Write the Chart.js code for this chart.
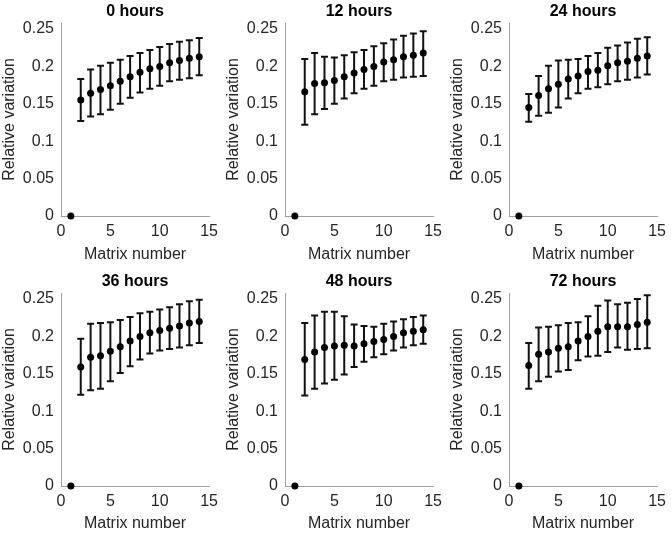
<!DOCTYPE html>
<html lang="en">
<head>
<meta charset="UTF-8">
<title>Relative variation by matrix number</title>
<script src="https://cdn.jsdelivr.net/npm/chart.js"></script>
<style>
  body { margin: 0; background: #fff; }
  #wrap { position: relative; width: 672px; height: 535px; }
  #wrap canvas { position: absolute; }
</style>
</head>
<body>
<div id="wrap"></div>
<script>
  // x values and tick labels shared by every panel
  const matrixNumbers = [1, 2, 3, 4, 5, 6, 7, 8, 9, 10, 11, 12, 13, 14];
  const xTicks = [0, 5, 10, 15];
  const yTicks = [0, 0.05, 0.1, 0.15, 0.2, 0.25];
  const yTickLabels = ['0', '0.05', '0.1', '0.15', '0.2', '0.25'];
  const panelTitles = ['0 hours', '12 hours', '24 hours', '36 hours', '48 hours', '72 hours'];

  // mean, upper and lower error bar ends
  const mean0h  = [0, .155, .164, .169, .174, .180, .186, .192, .197, .200, .205, .208, .211, .213];
  const upper0h = [0, .183, .196, .201, .205, .209, .214, .218, .222, .226, .230, .233, .235, .238];
  const lower0h = [0, .127, .133, .136, .142, .150, .158, .165, .170, .174, .180, .182, .184, .188];

  const mean12h  = [0, .166, .177, .178, .181, .186, .191, .196, .200, .206, .209, .213, .215, .218];
  const upper12h = [0, .210, .218, .213, .212, .215, .219, .222, .227, .231, .236, .241, .244, .247];
  const lower12h = [0, .122, .136, .143, .150, .157, .164, .170, .174, .180, .182, .185, .186, .187];

  const mean24h  = [0, .145, .161, .170, .176, .183, .187, .193, .195, .201, .205, .207, .211, .214];
  const upper24h = [0, .163, .187, .201, .208, .209, .210, .214, .218, .225, .228, .232, .237, .239];
  const lower24h = [0, .126, .134, .138, .145, .157, .164, .170, .172, .176, .180, .182, .185, .189];

  const mean36h  = [0, .159, .172, .174, .180, .186, .194, .200, .205, .208, .211, .214, .218, .220];
  const upper36h = [0, .197, .217, .218, .219, .222, .226, .231, .233, .236, .239, .243, .247, .249];
  const lower36h = [0, .122, .128, .130, .140, .151, .160, .169, .177, .181, .183, .185, .188, .191];

  const mean48h  = [0, .169, .179, .185, .187, .188, .187, .190, .193, .196, .200, .205, .207, .209];
  const upper48h = [0, .218, .228, .233, .233, .227, .216, .214, .213, .217, .220, .223, .226, .228];
  const lower48h = [0, .121, .130, .137, .142, .149, .159, .166, .172, .176, .181, .185, .188, .190];

  const mean72h  = [0, .161, .176, .179, .184, .186, .194, .200, .207, .213, .213, .213, .216, .219];
  const upper72h = [0, .191, .212, .213, .215, .218, .219, .227, .241, .248, .243, .245, .250, .255];
  const lower72h = [0, .130, .140, .146, .153, .155, .168, .173, .174, .179, .185, .182, .183, .184];

  const panels = [
    [mean0h, upper0h, lower0h],
    [mean12h, upper12h, lower12h],
    [mean24h, upper24h, lower24h],
    [mean36h, upper36h, lower36h],
    [mean48h, upper48h, lower48h],
    [mean72h, upper72h, lower72h]
  ];

  const FONT = '"Liberation Sans", Arial, sans-serif';
  const TEXT = '#262626';
  const AXIS = '#a0a0a0';

  // vertical error bars with caps, drawn under the markers
  const errorBars = {
    id: 'errorBars',
    beforeDatasetsDraw(chart) {
      const { ctx, scales: { x, y } } = chart;
      const ds = chart.data.datasets[0];
      ctx.save();
      ctx.strokeStyle = '#111';
      ctx.lineWidth = 2;
      ds.data.forEach((p, i) => {
        const px = x.getPixelForValue(p.x);
        const top = y.getPixelForValue(ds.upper[i]);
        const bot = y.getPixelForValue(ds.lower[i]);
        if (top === bot) return;
        ctx.beginPath();
        ctx.moveTo(px, top); ctx.lineTo(px, bot);
        ctx.moveTo(px - 3.5, top); ctx.lineTo(px + 3.5, top);
        ctx.moveTo(px - 3.5, bot); ctx.lineTo(px + 3.5, bot);
        ctx.stroke();
      });
      ctx.restore();
    }
  };

  // title centred over the plot area (matlab style)
  const panelTitle = {
    id: 'panelTitle',
    afterDraw(chart, args, opts) {
      const { ctx, chartArea } = chart;
      ctx.save();
      ctx.font = 'bold 16px ' + FONT;
      ctx.fillStyle = '#000';
      ctx.textAlign = 'center';
      ctx.textBaseline = 'middle';
      ctx.fillText(opts.text, (chartArea.left + chartArea.right) / 2, chartArea.top - 11);
      ctx.restore();
    }
  };

  const wrap = document.getElementById('wrap');

  panels.forEach((p, k) => {
    const col = k % 3, row = Math.floor(k / 3);
    const top = row === 0 ? 0 : 270;
    const h = row === 0 ? 266 : 265;
    const canvas = document.createElement('canvas');
    canvas.width = 224;
    canvas.height = h;
    canvas.style.left = (224 * col) + 'px';
    canvas.style.top = top + 'px';
    wrap.appendChild(canvas);

    new Chart(canvas.getContext('2d'), {
      type: 'scatter',
      data: {
        datasets: [{
          data: matrixNumbers.map((n, i) => ({ x: n, y: p[0][i] })),
          upper: p[1],
          lower: p[2],
          pointRadius: 3.5,
          pointBackgroundColor: '#000',
          pointBorderWidth: 0,
          showLine: false,
          clip: false
        }]
      },
      options: {
        responsive: false,
        animation: false,
        layout: { padding: { top: 23, right: 13, left: 0, bottom: 0 } },
        plugins: {
          legend: { display: false },
          tooltip: { enabled: false },
          panelTitle: { text: panelTitles[k] }
        },
        scales: {
          x: {
            type: 'linear',
            min: 0,
            max: 15,
            afterBuildTicks: s => { s.ticks = xTicks.map(v => ({ value: v })); },
            afterFit: s => { s.height = h - 216; },
            grid: { display: false, drawTicks: false },
            border: { color: AXIS, width: 1 },
            ticks: { padding: 6, color: TEXT, font: { family: FONT, size: 16 }, maxRotation: 0 },
            title: {
              display: true, text: 'Matrix number', color: TEXT,
              font: { family: FONT, size: 16 }, padding: { top: 0, bottom: 2 }
            }
          },
          y: {
            type: 'linear',
            min: 0,
            max: 0.258,
            afterBuildTicks: s => { s.ticks = yTicks.map(v => ({ value: v })); },
            afterFit: s => { s.width = 61; },
            grid: { display: false, drawTicks: false },
            border: { color: AXIS, width: 1 },
            ticks: {
              padding: 7, color: TEXT, font: { family: FONT, size: 16 },
              callback: (v, i) => yTickLabels[i]
            },
            title: {
              display: true, text: 'Relative variation', color: TEXT,
              font: { family: FONT, size: 16 }, padding: { top: 0, bottom: 0 }
            }
          }
        }
      },
      plugins: [errorBars, panelTitle]
    });
  });
</script>
</body>
</html>
